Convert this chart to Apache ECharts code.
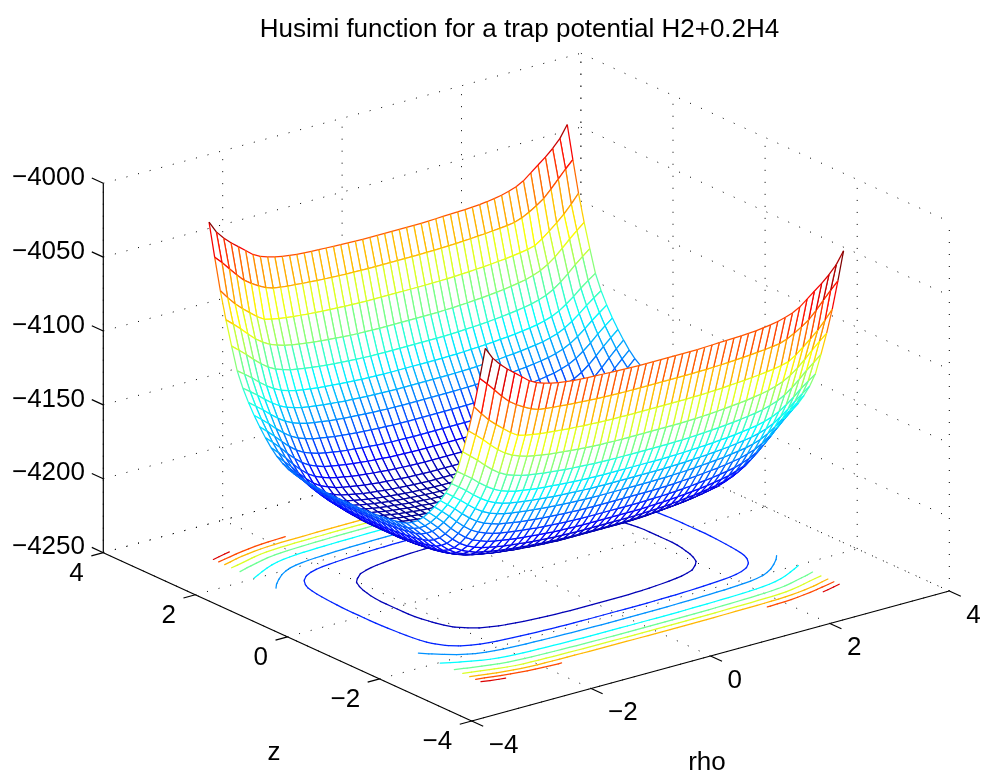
<!DOCTYPE html>
<html><head><meta charset="utf-8">
<style>html,body{margin:0;padding:0;background:#fff}#c{width:987px;height:776px}</style>
<script src="https://cdn.jsdelivr.net/npm/echarts@6/dist/echarts.min.js"></script>
</head><body><div id="c"></div>
<script>
const titleText = 'Husimi function for a trap potential H2+0.2H4';
const rhoTicks = [-4, -2, 0, 2, 4];
const zTicks = [-4, -2, 0, 2, 4];
const valueTicks = [-4250, -4200, -4150, -4100, -4050, -4000];
const contourLevels = [-4200, -4180, -4160, -4140, -4120, -4100, -4080, -4060, -4040];
const meshHalfCoords = [0.061,0.184,0.306,0.429,0.551,0.673,0.796,0.918,1.041,1.163,1.286,1.408,1.531,1.653,1.776,1.898,2.02,2.143,2.265,2.388,2.51,2.633,2.755,2.878,3];
const valueFloor = -4250;
// surface height above the floor of the box; one row per |rho|, one column per |z|; the surface is mirror symmetric
const heightAboveFloor = [
[40,40,40,40.2,40.5,41,41.5,42.1,42.9,43.9,45.1,47.2,50.6,55.5,61.8,69.2,77.8,86.9,96,105.8,117.5,132,150,169,187],
[40,40,40,40.2,40.5,41,41.5,42.1,42.9,43.9,45.1,47.2,50.6,55.5,61.8,69.2,77.8,86.9,96,105.8,117.5,132,150,169,187],
[40,40,40,40.2,40.5,41,41.5,42.1,42.9,43.9,45.1,47.2,50.6,55.5,61.8,69.2,77.8,86.9,96,105.8,117.5,132,150,169,187],
[40,40,40,40.2,40.5,41,41.5,42.1,42.9,43.9,45.1,47.2,50.6,55.5,61.8,69.2,77.8,86.9,96,105.8,117.5,132,150,169,187],
[40.1,40.1,40.1,40.3,40.6,41.1,41.6,42.2,43,44,45.2,47.3,50.7,55.6,61.9,69.3,77.9,87,96.1,105.9,117.6,132.1,150.1,169.1,187.1],
[40.3,40.3,40.3,40.5,40.8,41.3,41.8,42.4,43.2,44.2,45.4,47.5,50.9,55.8,62.1,69.5,78,87.1,96.2,106,117.7,132.3,150.2,169.2,187.3],
[40.5,40.5,40.5,40.7,41,41.5,42,42.6,43.4,44.4,45.6,47.7,51.1,56,62.3,69.6,78.2,87.3,96.4,106.2,117.9,132.4,150.3,169.3,187.5],
[40.8,40.8,40.8,41,41.3,41.8,42.3,42.9,43.7,44.7,45.9,48,51.4,56.3,62.5,69.9,78.4,87.5,96.6,106.4,118.2,132.7,150.5,169.5,187.7],
[41.2,41.2,41.2,41.4,41.7,42.2,42.7,43.3,44.1,45.1,46.3,48.4,51.8,56.6,62.9,70.2,78.8,87.8,96.9,106.7,118.5,133,150.8,169.7,187.9],
[41.6,41.6,41.6,41.8,42.1,42.6,43.1,43.7,44.5,45.5,46.7,48.8,52.2,57,63.3,70.6,79.1,88.1,97.2,107,118.8,133.4,151,170,188.1],
[42.1,42.1,42.1,42.3,42.6,43.1,43.6,44.2,45,46,47.2,49.3,52.6,57.5,63.7,71,79.5,88.5,97.5,107.3,119.2,133.8,151.4,170.3,188.3],
[42.7,42.7,42.7,42.9,43.2,43.7,44.2,44.8,45.6,46.5,47.8,49.9,53.2,58.1,64.3,71.6,80,88.9,98,107.8,119.7,134.3,151.7,170.7,188.6],
[43.3,43.3,43.3,43.5,43.8,44.3,44.8,45.4,46.2,47.1,48.3,50.4,53.8,58.6,64.8,72.1,80.5,89.4,98.4,108.2,120.2,134.8,152.1,171,189],
[44,44,44,44.2,44.5,45,45.5,46.1,46.8,47.8,49,51.1,54.5,59.3,65.5,72.7,81,89.9,98.9,108.7,120.8,135.4,152.6,171.5,189.6],
[44.9,44.9,44.9,45.1,45.4,45.9,46.4,47,47.7,48.7,49.9,52,55.4,60.2,66.3,73.5,81.7,90.6,99.6,109.4,121.5,136.2,153.1,171.9,190.3],
[45.9,45.9,45.9,46.1,46.4,46.9,47.4,47.9,48.7,49.7,50.9,53,56.3,61.1,67.2,74.3,82.6,91.3,100.3,110.1,122.3,137,153.7,172.5,191.3],
[47,47,47,47.2,47.5,48,48.5,49,49.8,50.7,52,54.1,57.4,62.2,68.2,75.3,83.4,92.2,101.1,110.9,123.2,138,154.4,173.2,192.6],
[48.8,48.8,48.8,49,49.3,49.8,50.2,50.8,51.6,52.5,53.7,55.9,59.2,63.9,69.9,76.9,84.9,93.5,102.4,112.2,124.7,139.5,155.3,175,194.3],
[51,51,51,51.2,51.5,52,52.4,53,53.7,54.7,55.9,58,61.3,66,71.9,78.8,86.7,95.2,104,113.8,126.4,141.4,156.6,177.5,197],
[54.3,54.3,54.3,54.5,54.8,55.2,55.7,56.3,57,57.9,59.1,61.3,64.5,69.1,74.9,81.6,89.3,97.7,106.4,116.2,129.1,144.2,159.8,180.5,201],
[58.7,58.7,58.7,58.9,59.2,59.6,60.1,60.6,61.3,62.2,63.4,65.6,68.8,73.3,79,85.5,92.9,101,109.6,119.5,132.7,147.9,163.8,184,205],
[64,64,64,64.2,64.5,64.9,65.3,65.9,66.5,67.4,68.6,70.8,73.9,78.3,83.8,90.1,97.1,105,113.4,123.3,137,152.4,168,189,209],
[69.8,69.8,69.8,70,70.3,70.7,71.1,71.6,72.3,73,74.3,76.5,79.6,83.8,89.1,95.1,101.8,109.3,117.6,127.6,141.7,157.3,172.5,194.5,213.5],
[75,75,75,75.2,75.5,75.8,76.2,76.8,77.4,78.1,79.4,81.6,84.6,88.8,93.9,99.7,106,113.2,121.4,131.4,145.9,161.8,178,200,219],
[80,80,80,80.2,80.5,80.8,81.2,81.7,82.3,83,84.3,86.5,89.5,93.5,98.5,104,110,117,125,135,150,166,184,205,227]
];

const FONT = '"Liberation Sans", Arial, sans-serif';
const half = meshHalfCoords.length;
const N = half * 2;
const mirrorIndex = k => k < half ? half - 1 - k : k - half;
const coordAt = k => (k < half ? -1 : 1) * meshHalfCoords[mirrorIndex(k)];
const valueAt = (i, j) => valueFloor + heightAboveFloor[mirrorIndex(i)][mirrorIndex(j)];

// orthographic view of the 3D box into the plot's x/y value axes
function project(rho, z, v) {
  return [
    471.7 + (rho + 4) * 59.7 - (z + 4) * 46.05,
    721 - (rho + 4) * 16.25 - (z + 4) * 21.04 - (v - valueFloor) * 1.4776
  ];
}
let vMin = Infinity, vMax = -Infinity;
for (let i = 0; i < N; i++) for (let j = 0; j < N; j++) { const v = valueAt(i, j); if (v < vMin) vMin = v; if (v > vMax) vMax = v; }
function jet(v) {
  const t = Math.min(1, Math.max(0, (v - vMin) / (vMax - vMin)));
  const c = x => Math.round(255 * Math.min(1, Math.max(0, 1.5 - Math.abs(4 * t - x))));
  return 'rgb(' + c(3) + ',' + c(2) + ',' + c(1) + ')';
}

// box furniture: dotted grid on the floor and the two back walls
const vLo = valueTicks[0], vHi = valueTicks[valueTicks.length - 1];
const gridSegments = [];
rhoTicks.forEach(r => {
  gridSegments.push([r, -4, vLo, r, 4, vLo]);
  gridSegments.push([r, 4, vLo, r, 4, vHi]);
});
zTicks.forEach(z => {
  gridSegments.push([-4, z, vLo, 4, z, vLo]);
  gridSegments.push([4, z, vLo, 4, z, vHi]);
});
valueTicks.forEach(v => {
  gridSegments.push([-4, 4, v, 4, 4, v]);
  gridSegments.push([4, 4, v, 4, -4, v]);
});

// contour lines on the floor by marching squares over the surface values
const contourSegments = [];
contourLevels.forEach(level => {
  const cross = (i1, j1, i2, j2) => {
    const a = valueAt(i1, j1), b = valueAt(i2, j2);
    if ((a < level) === (b < level)) return null;
    const t = (level - a) / (b - a);
    return [coordAt(i1) + t * (coordAt(i2) - coordAt(i1)), coordAt(j1) + t * (coordAt(j2) - coordAt(j1))];
  };
  for (let i = 0; i < N - 1; i++) for (let j = 0; j < N - 1; j++) {
    const pts = [cross(i, j, i + 1, j), cross(i + 1, j, i + 1, j + 1), cross(i, j + 1, i + 1, j + 1), cross(i, j, i, j + 1)].filter(Boolean);
    for (let k = 0; k + 1 < pts.length; k += 2) {
      contourSegments.push([pts[k][0], pts[k][1], pts[k + 1][0], pts[k + 1][1], level]);
    }
  }
});

// mesh faces, far corner first, so nearer faces hide farther ones
const meshCells = [];
for (let i = N - 2; i >= 0; i--) for (let j = N - 2; j >= 0; j--) meshCells.push([i, j]);

function segStyle(color, width, dash) {
  const s = { stroke: color, lineWidth: width, fill: null };
  if (dash) s.lineDash = dash;
  return s;
}
function lineEl(api, p, q, style) {
  const a = api.coord(p), b = api.coord(q);
  return { type: 'line', shape: { x1: a[0], y1: a[1], x2: b[0], y2: b[1] }, style: style };
}

const axisLines = [
  [-4, 4, vLo, -4, 4, vHi],
  [-4, 4, vLo, -4, -4, vLo],
  [-4, -4, vLo, 4, -4, vLo]
];
const tickLen = 0.2;
const minus = n => String(n).replace('-', '\u2212');

function axisChildren(api) {
  const kids = [];
  const black = segStyle('#000', 1.2);
  axisLines.forEach(s => kids.push(lineEl(api, project(s[0], s[1], s[2]), project(s[3], s[4], s[5]), black)));
  const label = (text, x, y, align) => {
    const c = api.coord([x, y]);
    kids.push({ type: 'text', style: { text: text, x: c[0], y: c[1], align: align, verticalAlign: 'middle', font: '26px ' + FONT, fill: '#000' } });
  };
  valueTicks.forEach(v => {
    const p = project(-4, 4, v);
    kids.push(lineEl(api, p, project(-4, 4 + 0.25, v), black));
    label(minus(v), 85, p[1] - 5.5, 'right');
  });
  zTicks.forEach(z => {
    const p = project(-4, z, vLo);
    kids.push(lineEl(api, p, project(-4 - tickLen, z, vLo), black));
    label(minus(z), p[0] - 19.5, p[1] + 21, 'right');
  });
  rhoTicks.forEach(r => {
    const p = project(r, -4, vLo);
    kids.push(lineEl(api, p, project(r, -4 - 0.25, vLo), black));
    label(minus(r), p[0] + 17, p[1] + 24.5, 'left');
  });
  label('z', 274, 753, 'center');
  label('rho', 707, 763, 'center');
  return kids;
}

const option = {
  animation: false,
  title: { text: titleText, left: 514.5, top: 12, textAlign: 'center',
    textStyle: { fontFamily: FONT, fontSize: 26, fontWeight: 'normal', color: '#000' } },
  grid: { left: 0, right: 0, top: 0, bottom: 0 },
  xAxis: { type: 'value', min: 0, max: 987, show: false },
  yAxis: { type: 'value', min: 0, max: 776, inverse: true, show: false },
  series: [
    { type: 'custom', name: 'grid', z: 1, silent: true, clip: false, progressive: 0, data: gridSegments,
      renderItem: (params, api) => {
        const s = gridSegments[params.dataIndex];
        return lineEl(api, project(s[0], s[1], s[2]), project(s[3], s[4], s[5]), segStyle('#000', 1, [1, 11]));
      } },
    { type: 'custom', name: 'contours', z: 2, silent: true, clip: false, progressive: 0, data: contourSegments,
      renderItem: (params, api) => {
        const s = contourSegments[params.dataIndex];
        const st = segStyle(jet(s[4]), 1.25);
        st.lineCap = 'round';
        return lineEl(api, project(s[0], s[1], valueFloor), project(s[2], s[3], valueFloor), st);
      } },
    { type: 'custom', name: 'mesh', z: 3, silent: true, clip: false, progressive: 0, data: meshCells,
      renderItem: (params, api) => {
        const c = meshCells[params.dataIndex], i = c[0], j = c[1];
        const P = (a, b) => project(coordAt(a), coordAt(b), valueAt(a, b));
        const p00 = P(i, j), p10 = P(i + 1, j), p11 = P(i + 1, j + 1), p01 = P(i, j + 1);
        const w = 1.25;
        return { type: 'group', children: [
          { type: 'polygon', shape: { points: [p00, p10, p11, p01].map(p => api.coord(p)) }, style: { fill: '#fff', stroke: null } },
          lineEl(api, p00, p10, segStyle(jet(valueAt(i, j)), w)),
          lineEl(api, p00, p01, segStyle(jet(valueAt(i, j)), w)),
          lineEl(api, p10, p11, segStyle(jet(valueAt(i + 1, j)), w)),
          lineEl(api, p01, p11, segStyle(jet(valueAt(i, j + 1)), w))
        ] };
      } },
    { type: 'custom', name: 'axes', z: 4, silent: true, clip: false, progressive: 0, data: [[0, 0]],
      renderItem: (params, api) => ({ type: 'group', children: axisChildren(api) }) }
  ]
};
echarts.init(document.getElementById('c'), null, { renderer: 'canvas' }).setOption(option);
</script></body></html>
